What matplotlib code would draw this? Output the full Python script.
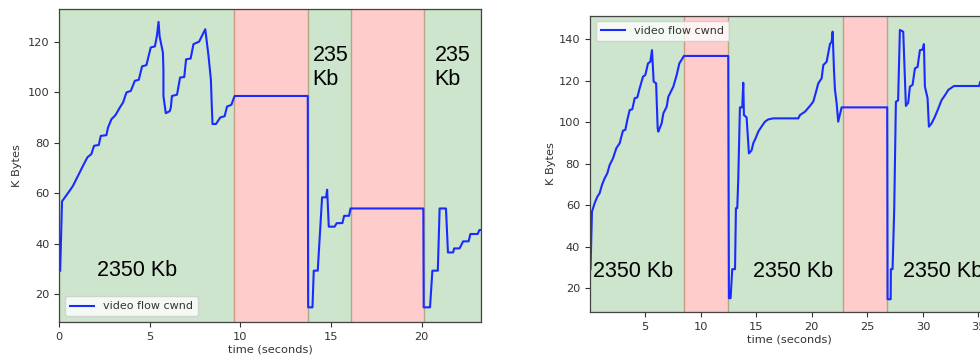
import matplotlib
matplotlib.use("Agg")
import matplotlib.pyplot as plt

# Congestion window of the video flow, run A (seconds, KB)
run_a_time = [0.05, 0.15, 0.57, 0.76, 0.94, 1.13, 1.31, 1.55, 1.77, 1.92,
              2.18, 2.29, 2.60, 2.69, 2.88, 3.10, 3.34, 3.52, 3.71, 3.95,
              4.17, 4.39, 4.57, 4.81, 5.05, 5.28, 5.39, 5.48, 5.54, 5.72,
              5.75, 5.75, 5.88, 6.10, 6.16, 6.22, 6.50, 6.67, 6.90, 7.00,
              7.25, 7.41, 7.72, 8.06, 8.24, 8.37, 8.42, 8.46, 8.65, 8.89,
              9.13, 9.26, 9.50, 9.68, 13.72, 13.74, 13.98, 14.05, 14.27, 14.51,
              14.73, 14.79, 14.88, 15.20, 15.32, 15.63, 15.73, 16.00, 16.08, 20.10,
              20.12, 20.47, 20.60, 20.90, 21.00, 21.35, 21.46, 21.75, 21.80, 22.10,
              22.30, 22.60, 22.70, 23.10, 23.20, 23.30]
run_a_cwnd = [29.4, 56.8, 61.0, 63.0, 65.6, 68.3, 70.9, 74.2, 75.5, 78.8,
              79.1, 82.7, 83.0, 86.0, 89.3, 90.9, 93.9, 95.9, 99.9, 100.5,
              104.5, 104.9, 110.2, 110.7, 117.7, 118.1, 122.3, 127.8, 122.0, 115.7,
              109.0, 98.5, 91.7, 92.5, 94.0, 98.5, 99.0, 105.8, 106.0, 113.0,
              113.3, 119.0, 120.0, 124.9, 114.3, 105.0, 94.6, 87.4, 87.4, 90.0,
              90.5, 94.3, 95.0, 98.5, 98.5, 14.9, 14.9, 29.4, 29.4, 58.4,
              58.4, 61.4, 46.8, 46.8, 48.2, 48.2, 51.1, 51.1, 54.0, 54.0,
              14.9, 14.9, 29.4, 29.4, 54.0, 54.0, 36.6, 36.6, 38.2, 38.2,
              41.0, 41.0, 43.9, 43.9, 45.5, 45.5]
# Bandwidth phases of run A: (start, end, kind)
run_a_phases = [(0.0, 9.66, "ok"), (9.66, 13.72, "cut"), (13.72, 16.12, "ok"),
                (16.12, 20.13, "cut"), (20.13, 23.3, "ok")]
run_a_notes = [(2.07, 27.3, "2350 Kb"), (13.98, 102.8, "235\nKb"),
               (20.72, 102.8, "235\nKb")]

# Congestion window of the video flow, run B (seconds, KB)
run_b_time = [0.10, 0.23, 0.47, 0.71, 0.92, 1.13, 1.37, 1.61, 1.82, 2.12,
              2.42, 2.72, 3.02, 3.23, 3.41, 3.62, 3.86, 4.07, 4.31, 4.52,
              4.82, 5.03, 5.27, 5.48, 5.63, 5.78, 6.00, 6.14, 6.20, 6.50,
              6.65, 6.95, 7.10, 7.55, 7.85, 8.09, 8.30, 8.50, 12.49, 12.55,
              12.70, 12.85, 13.10, 13.18, 13.30, 13.39, 13.54, 13.75, 13.84, 13.90,
              14.14, 14.35, 14.59, 14.74, 14.95, 15.19, 15.49, 15.79, 16.09, 16.54,
              18.79, 18.94, 19.39, 19.84, 20.14, 20.35, 20.59, 20.89, 21.04, 21.34,
              21.64, 21.79, 21.88, 22.00, 22.09, 22.24, 22.38, 22.69, 26.79, 26.82,
              27.10, 27.12, 27.27, 27.42, 27.57, 27.77, 27.93, 28.23, 28.47, 28.68,
              28.83, 29.07, 29.28, 29.52, 29.73, 29.97, 30.09, 30.18, 30.42, 30.54,
              30.78, 31.08, 31.38, 31.68, 31.98, 32.28, 32.79, 35.06, 35.15, 36.00]
run_b_cwnd = [29.2, 56.9, 61.0, 64.1, 65.8, 69.8, 73.0, 75.4, 79.4, 82.6,
              87.5, 89.9, 96.0, 96.3, 101.1, 105.9, 106.3, 111.6, 112.0, 116.4,
              122.0, 122.8, 128.4, 129.2, 134.8, 119.6, 118.8, 97.1, 95.5, 99.5,
              104.3, 107.5, 112.3, 117.2, 122.8, 128.4, 130.2, 132.0, 132.0, 15.2,
              15.2, 29.2, 29.2, 58.6, 58.6, 72.5, 107.2, 107.2, 119.1, 103.5,
              102.4, 85.0, 86.5, 89.9, 92.3, 95.5, 98.0, 100.3, 101.4, 101.9,
              101.9, 103.5, 105.1, 107.9, 110.0, 114.0, 118.8, 121.2, 127.6, 129.2,
              137.7, 138.8, 143.7, 125.2, 115.6, 109.2, 100.3, 107.2, 107.2, 14.7,
              14.7, 29.2, 29.2, 58.1, 109.9, 110.6, 144.5, 143.7, 107.9, 109.5,
              117.2, 118.0, 126.0, 126.7, 134.8, 135.0, 137.7, 117.2, 111.6, 97.9,
              99.5, 102.7, 106.6, 110.7, 113.0, 115.6, 117.5, 117.5, 119.5, 119.5]
run_b_phases = [(0.0, 8.48, "ok"), (8.48, 12.49, "cut"), (12.49, 22.8, "ok"),
                (22.8, 26.8, "cut"), (26.8, 36.0, "ok")]
run_b_notes = [(0.32, 25.6, "2350 Kb"), (14.7, 25.6, "2350 Kb"),
               (28.2, 25.6, "2350 Kb")]

phase_colors = {"ok": "g", "cut": "r"}
line_color = "#1a2bff"
label_size = 8.2
note_font = ["Liberation Sans", "DejaVu Sans"]

fig = plt.figure(figsize=(9.8, 3.6), dpi=100)
ax_a = fig.add_axes([0.0605, 0.1056, 0.4306, 0.8694])
ax_b = fig.add_axes([0.6020, 0.1325, 0.4061, 0.8239])


def draw_run(ax, t, cwnd, phases, notes, xlim, ylim, xticks, yticks,
             legend_loc, ypad):
    for start, end, kind in phases:
        ax.axvspan(start, end, color=phase_colors[kind], alpha=0.2)
    ax.plot(t, cwnd, color=line_color, lw=1.5, label="video flow cwnd")
    for x, y, s in notes:
        ax.text(x, y, s, fontsize=15.5, family=note_font, color="black",
                ha="left", va="baseline")
    ax.set_xlim(*xlim)
    ax.set_ylim(*ylim)
    ax.set_xticks(xticks)
    ax.set_yticks(yticks)
    ax.tick_params(labelsize=label_size, colors="#333333", length=3.5, width=0.8)
    for sp in ax.spines.values():
        sp.set_color("#444444")
        sp.set_linewidth(0.9)
    ax.set_xlabel("time (seconds)", fontsize=label_size, color="#333333", labelpad=2)
    ax.set_ylabel("K Bytes", fontsize=label_size, color="#333333", labelpad=ypad)
    ax.legend(loc=legend_loc, fontsize=8, framealpha=0.8, handlelength=2.2,
              borderpad=0.45, labelcolor="#333333")


draw_run(ax_a, run_a_time, run_a_cwnd, run_a_phases, run_a_notes,
         (0, 23.3), (9.1, 132.9), [0, 5, 10, 15, 20], [20, 40, 60, 80, 100, 120],
         "lower left", 4)
draw_run(ax_b, run_b_time, run_b_cwnd, run_b_phases, run_b_notes,
         (0.05, 35.85), (8.4, 151.4), [5, 10, 15, 20, 25, 30, 35],
         [20, 40, 60, 80, 100, 120, 140], "upper left", 2)

fig.savefig("out.png", dpi=100)
